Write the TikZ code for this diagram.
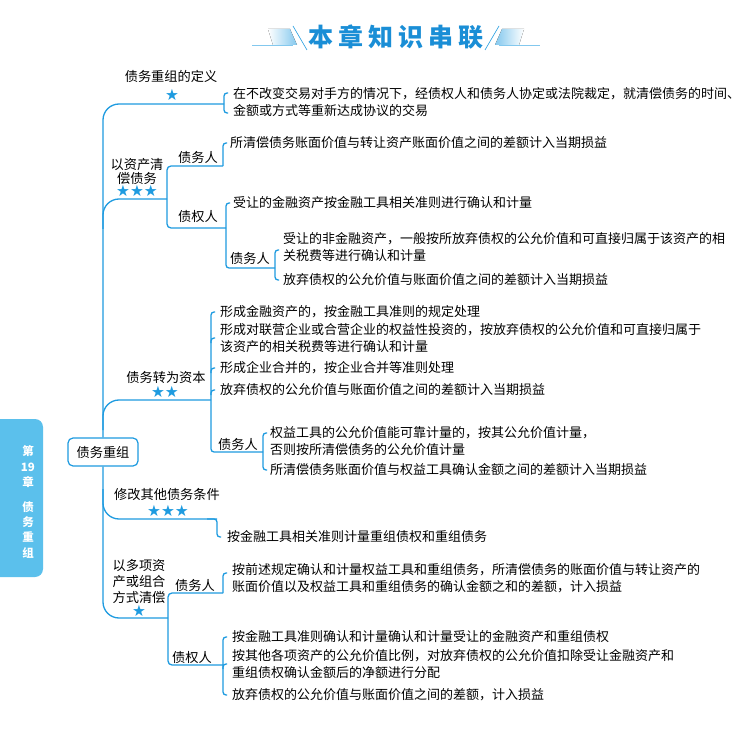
\documentclass[tikz,border=0pt]{standalone}
\usepackage{fontspec}
\setmainfont{Noto Sans CJK SC}
\newfontfamily\simboli{DejaVu Sans}
\usetikzlibrary{calc}
\definecolor{azzurro}{HTML}{1E9BE0}
\definecolor{linguetta}{HTML}{5BC0EC}
\definecolor{bluetitolo}{HTML}{1A8ED6}

\begin{document}
\begin{tikzpicture}[x=1pt, y=-1pt,
  testo/.style={anchor=west, inner sep=0pt, align=left,
                font=\fontsize{13}{17.5}\selectfont},
  etichetta/.style={inner sep=0pt, align=center,
                    font=\fontsize{13.2}{15.5}\selectfont},
  stelle/.style={inner sep=0pt, text=azzurro, font=\simboli\fontsize{15.5}{15.5}\selectfont},
  radice/.style={draw=azzurro, line width=1.2pt, rounded corners=5pt, fill=white,
                 minimum width=70pt, minimum height=28pt, inner sep=0pt,
                 font=\fontsize{13.2}{15}\selectfont},
  ramo/.style={draw=azzurro, line width=1.3pt},
  gancio/.style={ramo, rounded corners=3pt}
]

% Le coordinate sono in pixel dell'originale (asse y verso il basso).
\path[use as bounding box, fill=white] (0,0) rectangle (750,738);

% ---- titolo --------------------------------------------------------
\draw[azzurro!55, line width=0.8pt] (252,45) -- (293,45);
\fill[left color=white, right color=azzurro!55] (268,29) -- (290,29) -- (297,45) -- (273,45) -- cycle;
\draw[azzurro, line width=0.6pt] (293,26) -- (307,50);
\draw[azzurro!55, line width=0.8pt] (499,45) -- (540,45);
\fill[left color=azzurro!55, right color=white] (502,29) -- (524,29) -- (519,45) -- (495,45) -- cycle;
\draw[azzurro, line width=0.6pt] (499,26) -- (485,50);
\node[font=\bfseries\fontsize{25}{25}\selectfont, text=bluetitolo, inner sep=0pt] (titolo) at (396,37)
  {本\kern5pt 章\kern5pt 知\kern5pt 识\kern5pt 串\kern5pt 联};

% ---- linguetta del capitolo ----------------------------------------
\fill[linguetta, rounded corners=8pt] (-10,419) rectangle (43,577);
\node[text=white, inner sep=0pt, align=center, font=\bfseries\fontsize{11.5}{15.2}\selectfont]
  (capitolo) at (28,502) {第\\19\\章\\[10pt]债\\务\\重\\组};

% ---- nodo centrale -------------------------------------------------
\node[radice] (radice) at (103,452) {债务重组};

% ---- definizione ---------------------------------------------------
\node[etichetta] (defin) at (171,76) {债务重组的定义};
\node[stelle] (definst) at (172,95) {★};
\node[testo] (t1) at (233,102) {在不改变交易对手方的情况下，经债权人和债务人协定或法院裁定，就清偿债务的时间、\\金额或方式等重新达成协议的交易};
\coordinate (bA) at (224,104);

% ---- con attivita' -------------------------------------------------
\node[etichetta, font=\fontsize{13.2}{14}\selectfont] (attiv) at (137,171) {以资产清\\偿债务};
\node[stelle] (attivst) at (137,191) {★★★};
\node[etichetta] (deb1) at (198,157) {债务人};
\node[etichetta] (cre1) at (198,217) {债权人};
\node[etichetta] (deb2) at (250,258) {债务人};
\node[testo] (t2) at (230,143) {所清偿债务账面价值与转让资产账面价值之间的差额计入当期损益};
\node[testo] (t3) at (233,203) {受让的金融资产按金融工具相关准则进行确认和计量};
\node[testo] (t4) at (283,247) {受让的非金融资产，一般按所放弃债权的公允价值和可直接归属于该资产的相\\关税费等进行确认和计量};
\node[testo] (t5) at (283,280) {放弃债权的公允价值与账面价值之间的差额计入当期损益};
\coordinate (bB)  at (167,199);
\coordinate (bB1) at (223,166);
\coordinate (bB2) at (226,228);
\coordinate (bB3) at (275,268);

% ---- conversione in capitale ---------------------------------------
\node[etichetta] (capit) at (166,377) {债务转为资本};
\node[stelle] (capitst) at (165,392) {★★};
\node[etichetta] (deb3) at (238,444) {债务人};
\node[testo] (t6) at (220,312) {形成金融资产的，按金融工具准则的规定处理};
\node[testo] (t7) at (220,338) {形成对联营企业或合营企业的权益性投资的，按放弃债权的公允价值和可直接归属于\\该资产的相关税费等进行确认和计量};
\node[testo] (t8) at (220,368) {形成企业合并的，按企业合并等准则处理};
\node[testo] (t9) at (220,390) {放弃债权的公允价值与账面价值之间的差额计入当期损益};
\node[testo] (t10) at (270,441) {权益工具的公允价值能可靠计量的，按其公允价值计量，\\否则按所清偿债务的公允价值计量};
\node[testo] (t11) at (270,470) {所清偿债务账面价值与权益工具确认金额之间的差额计入当期损益};
\coordinate (bC)  at (211,400);
\coordinate (bC1) at (263,452);

% ---- altre condizioni ----------------------------------------------
\node[etichetta] (modif) at (167,494) {修改其他债务条件};
\node[stelle] (modifst) at (168,511) {★★★};
\node[testo] (t12) at (227,537) {按金融工具相关准则计量重组债权和重组债务};
\coordinate (bD) at (217,519);

% ---- piu' attivita' o combinazione ---------------------------------
\node[etichetta, font=\fontsize{13.2}{16}\selectfont] (multi) at (139,581) {以多项资\\产或组合\\方式清偿};
\node[stelle] (multist) at (139,611) {★};
\node[etichetta] (deb4) at (195,585) {债务人};
\node[etichetta] (cre4) at (192,658) {债权人};
\node[testo] (t13) at (232,578) {按前述规定确认和计量权益工具和重组债务，所清偿债务的账面价值与转让资产的\\账面价值以及权益工具和重组债务的确认金额之和的差额，计入损益};
\node[testo] (t14) at (232,637) {按金融工具准则确认和计量确认和计量受让的金融资产和重组债权};
\node[testo] (t15) at (232,664) {按其他各项资产的公允价值比例，对放弃债权的公允价值扣除受让金融资产和\\重组债权确认金额后的净额进行分配};
\node[testo] (t16) at (232,695) {放弃债权的公允价值与账面价值之间的差额，计入损益};
\coordinate (bE)  at (168,618);
\coordinate (bE1) at (223,593);
\coordinate (bE2) at (223,665);

% ---- dorso e rami principali ---------------------------------------
\draw[ramo, rounded corners=16pt] (bA) -- (radice.north |- bA) -- (radice.north);
\draw[ramo, rounded corners=16pt] (radice.south) -- (radice.south |- bE) -- (bE);
\draw[ramo, rounded corners=16pt] ($(radice.north |- bB)+(0,30)$) -- (radice.north |- bB) -- (bB);
\draw[ramo, rounded corners=16pt] ($(radice.north |- bC)+(0,30)$) -- (radice.north |- bC) -- (bC);
\draw[ramo, rounded corners=16pt] ($(radice.south |- bD)+(0,-30)$) -- (radice.south |- bD) -- (bD);

% ---- parentesi della definizione -----------------------------------
\draw[gancio] ($(bA |- t1.west)+(4,-9)$) -- ($(bA |- t1.west)+(0,-9)$)
  -- ($(bA |- t1.west)+(0,11)$) -- ($(bA |- t1.west)+(4,11)$);

% ---- rami di "以资产清偿债务" --------------------------------------
\draw[ramo, rounded corners=4pt] (bB1) -- (bB |- bB1) -- (bB |- bB2) -- (bB2);
\draw[gancio] (bB1) -- (bB1 |- t2.west) -- +(4,0);
\draw[gancio] ($(bB2 |- t3.west)+(4,0)$) -- (bB2 |- t3.west) -- (bB2 |- bB3) -- (bB3);
\draw[gancio] ($(bB3 |- t4.west)+(4,3)$) -- ($(bB3 |- t4.west)+(0,3)$) -- (bB3 |- t5.west) -- +(4,0);

% ---- rami di "债务转为资本" ----------------------------------------
\draw[gancio] ($(bC |- t6.west)+(4,0)$) -- (bC |- t6.west) -- (bC |- bC1) -- (bC1);
\draw[gancio] ($(bC |- t7.west)+(0,5)$) -- (bC |- t7.west) -- +(4,0);
\draw[gancio] ($(bC |- t8.west)+(0,5)$) -- (bC |- t8.west) -- +(4,0);
\draw[gancio] ($(bC |- t9.west)+(0,5)$) -- (bC |- t9.west) -- +(4,0);
\draw[gancio] ($(bC1 |- t10.west)+(4,-8)$) -- ($(bC1 |- t10.west)+(0,-8)$) -- (bC1 |- t11.west) -- +(4,0);

% ---- ramo di "修改其他债务条件" ------------------------------------
\draw[gancio] ($(bD)+(-10,0)$) -- (bD) -- (bD |- t12.west) -- +(4,0);

% ---- rami di "以多项资产或组合方式清偿" ----------------------------
\draw[ramo, rounded corners=4pt] (bE1) -- (bE |- bE1) -- (bE |- bE2) -- (bE2);
\draw[gancio] ($(bE1 |- t13.west)+(4,-5)$) -- ($(bE1 |- t13.west)+(0,-5)$) -- (bE1);
\draw[gancio] ($(bE2 |- t14.west)+(4,0)$) -- (bE2 |- t14.west) -- (bE2 |- t16.west) -- +(4,0);
\draw[gancio] ($(bE2 |- t15.west)+(0,5)$) -- (bE2 |- t15.west) -- +(4,0);

\end{tikzpicture}
\end{document}
